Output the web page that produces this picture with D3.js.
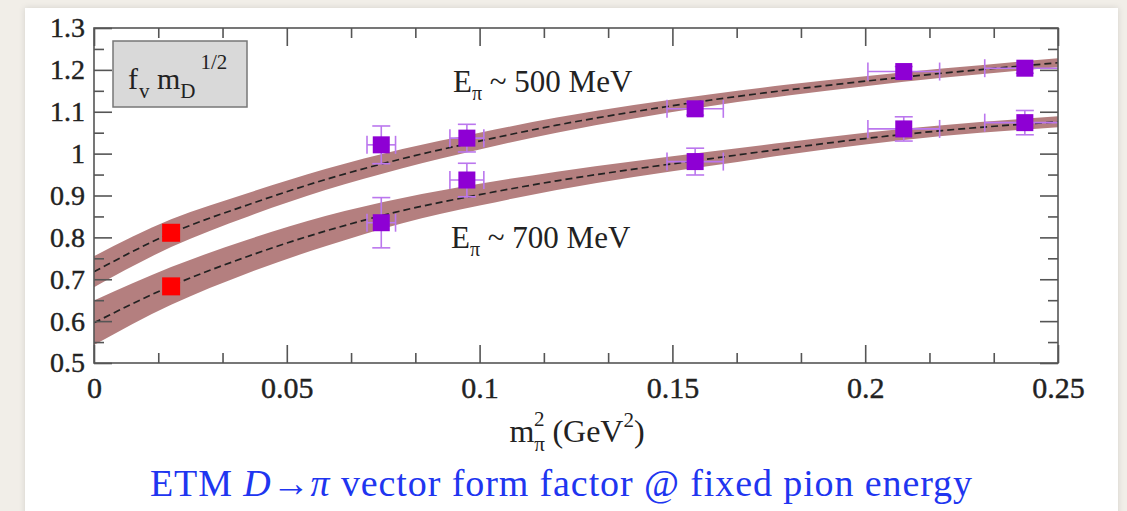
<!DOCTYPE html>
<html>
<head>
<meta charset="utf-8">
<script src="https://cdn.jsdelivr.net/npm/d3@7"></script>
<style>
  html, body { margin: 0; padding: 0; background: #f1eee8; }
  svg { display: block; }
</style>
</head>
<body>
<script>
// D -> pi vector form factor at fixed pion energy (ETM), two fit bands

// fit curves at these m_pi^2 values
const fitX = [0, 0.02, 0.04, 0.06, 0.08, 0.10, 0.12, 0.14, 0.16, 0.18, 0.20, 0.22, 0.25];
const fit500 = [0.718, 0.810, 0.878, 0.938, 0.988, 1.030, 1.068, 1.100, 1.128, 1.152, 1.173, 1.192, 1.217];
const band500 = [0.037, 0.033, 0.028, 0.025, 0.023, 0.020, 0.018, 0.016, 0.014, 0.013, 0.012, 0.011, 0.011];
const fit700 = [0.596, 0.684, 0.755, 0.815, 0.864, 0.902, 0.935, 0.963, 0.988, 1.013, 1.036, 1.055, 1.076];
const band700 = [0.053, 0.045, 0.040, 0.036, 0.030, 0.026, 0.022, 0.019, 0.017, 0.015, 0.014, 0.013, 0.013];

// lattice points
const mpi2 = [0.0745, 0.0967, 0.1559, 0.2100, 0.2414];
const mpi2Err = [0.0037, 0.0044, 0.0073, 0.0093, 0.0104];
const ff500 = [1.021, 1.037, 1.107, 1.196, 1.204];
const ff500Err = [0.045, 0.033, 0.015, 0.012, 0.012];
const ff700 = [0.835, 0.937, 0.981, 1.059, 1.074];
const ff700Err = [0.060, 0.040, 0.032, 0.029, 0.029];

// physical point (red)
const physX = [0.02, 0.02];
const physY = [0.811, 0.683];

const xTicks = [0, 0.05, 0.1, 0.15, 0.2, 0.25];
const yTicks = [0.5, 0.6, 0.7, 0.8, 0.9, 1, 1.1, 1.2, 1.3];

const W = 1127, H = 511;
const plotL = 94, plotR = 1058, plotT = 28, plotB = 363;

const x = d3.scaleLinear().domain([0, 0.25]).range([plotL, plotR]);
const y = d3.scaleLinear().domain([0.5, 1.3]).range([plotB, plotT]);

const svg = d3.select("body").append("svg").attr("width", W).attr("height", H);

const defs = svg.append("defs");
const shadow = defs.append("filter").attr("id", "shadow").attr("x", "-5%").attr("y", "-5%").attr("width", "110%").attr("height", "110%");
shadow.append("feDropShadow").attr("dx", 0).attr("dy", 0).attr("stdDeviation", 3).attr("flood-color", "#000").attr("flood-opacity", 0.12);
defs.append("clipPath").attr("id", "plot")
  .append("rect").attr("x", plotL).attr("y", plotT).attr("width", plotR - plotL).attr("height", plotB - plotT);

// white card
svg.append("rect").attr("x", 25).attr("y", 8).attr("width", 1093).attr("height", 520)
  .attr("fill", "#fff").attr("filter", "url(#shadow)");

const plot = svg.append("g").attr("clip-path", "url(#plot)");

function drawFit(center, half) {
  const pts = fitX.map((v, i) => ({ x: v, c: center[i], h: half[i] }));
  const area = d3.area().curve(d3.curveMonotoneX)
    .x((d) => x(d.x)).y0((d) => y(d.c - d.h)).y1((d) => y(d.c + d.h));
  const line = d3.line().curve(d3.curveMonotoneX).x((d) => x(d.x)).y((d) => y(d.c));
  plot.append("path").attr("d", area(pts)).attr("fill", "#b47f7f");
  plot.append("path").attr("d", line(pts)).attr("fill", "none")
    .attr("stroke", "#222").attr("stroke-width", 1.7).attr("stroke-dasharray", "7,4");
}
drawFit(fit500, band500);
drawFit(fit700, band700);

// error bars
const errColor = "#bb77ee";
function drawPoints(vals, errs) {
  mpi2.forEach((mx, i) => {
    const cx = x(mx), cy = y(vals[i]);
    const x0 = x(mx - mpi2Err[i]), x1 = x(mx + mpi2Err[i]);
    const y0 = y(vals[i] - errs[i]), y1 = y(vals[i] + errs[i]);
    const g = plot.append("g").attr("stroke", errColor).attr("stroke-width", 1.6).attr("fill", "none");
    g.append("line").attr("x1", x0).attr("x2", x1).attr("y1", cy).attr("y2", cy);
    g.append("line").attr("x1", x0).attr("x2", x0).attr("y1", cy - 9).attr("y2", cy + 9);
    g.append("line").attr("x1", x1).attr("x2", x1).attr("y1", cy - 9).attr("y2", cy + 9);
    g.append("line").attr("x1", cx).attr("x2", cx).attr("y1", y0).attr("y2", y1);
    g.append("line").attr("x1", cx - 9).attr("x2", cx + 9).attr("y1", y0).attr("y2", y0);
    g.append("line").attr("x1", cx - 9).attr("x2", cx + 9).attr("y1", y1).attr("y2", y1);
    plot.append("rect").attr("x", cx - 8.5).attr("y", cy - 8.5).attr("width", 17).attr("height", 17)
      .attr("fill", "#8e00d4");
  });
}
drawPoints(ff500, ff500Err);
drawPoints(ff700, ff700Err);

physX.forEach((px, i) => {
  plot.append("rect").attr("x", x(px) - 9).attr("y", y(physY[i]) - 9).attr("width", 18).attr("height", 18)
    .attr("fill", "#ff0000");
});

// frame and ticks (inward, on all four sides)
const axisColor = "#555";
svg.append("rect").attr("x", plotL).attr("y", plotT).attr("width", plotR - plotL).attr("height", plotB - plotT)
  .attr("fill", "none").attr("stroke", axisColor).attr("stroke-width", 1.6);

const xMinor = d3.range(0, 0.2501, 0.05 / 3).filter((v) => !xTicks.some((t) => Math.abs(t - v) < 1e-6));
const yMinor = d3.range(0.55, 1.3, 0.1);

const fmt = (d) => d3.format("~g")(+d.toFixed(3));
const serif = "'Liberation Serif', 'Times New Roman', serif";

function styleAxis(g) {
  g.select(".domain").remove();
  g.selectAll(".tick line").attr("stroke", axisColor).attr("stroke-width", 1.6);
}

function styleLabels(size) {
  return (g) => g.selectAll("text")
    .style("font-family", serif).style("font-size", size + "px")
    .attr("fill", "#222").attr("stroke", "#222").attr("stroke-width", 0.4);
}

svg.append("g").attr("transform", `translate(0,${plotB})`)
  .call(d3.axisBottom(x).tickValues(xTicks).tickSize(-18).tickPadding(14).tickFormat(fmt))
  .call(styleAxis)
  .call(styleLabels(30));
svg.append("g").attr("transform", `translate(0,${plotB})`)
  .call(d3.axisBottom(x).tickValues(xMinor).tickSize(-10).tickFormat(""))
  .call(styleAxis);
svg.append("g").attr("transform", `translate(0,${plotT})`)
  .call(d3.axisTop(x).tickValues(xTicks).tickSize(-18).tickFormat(""))
  .call(styleAxis);
svg.append("g").attr("transform", `translate(0,${plotT})`)
  .call(d3.axisTop(x).tickValues(xMinor).tickSize(-10).tickFormat(""))
  .call(styleAxis);

svg.append("g").attr("transform", `translate(${plotL},0)`)
  .call(d3.axisLeft(y).tickValues(yTicks).tickSize(-18).tickPadding(9).tickFormat(fmt))
  .call(styleAxis)
  .call(styleLabels(28));
svg.append("g").attr("transform", `translate(${plotL},0)`)
  .call(d3.axisLeft(y).tickValues(yMinor).tickSize(-10).tickFormat(""))
  .call(styleAxis);
svg.append("g").attr("transform", `translate(${plotR},0)`)
  .call(d3.axisRight(y).tickValues(yTicks).tickSize(-18).tickFormat(""))
  .call(styleAxis);
svg.append("g").attr("transform", `translate(${plotR},0)`)
  .call(d3.axisRight(y).tickValues(yMinor).tickSize(-10).tickFormat(""))
  .call(styleAxis);

// legend box
svg.append("rect").attr("x", 113).attr("y", 41).attr("width", 134).attr("height", 66)
  .attr("fill", "#d9d9d9").attr("stroke", "#777").attr("stroke-width", 1.5);
const leg = svg.append("text").attr("x", 128).attr("y", 89).style("font-family", serif)
  .attr("font-size", 30).attr("fill", "#222");
leg.append("tspan").text("f");
leg.append("tspan").attr("font-size", 21).attr("dy", 9).attr("dx", 1).text("v");
leg.append("tspan").attr("dy", -9).text(" m");
leg.append("tspan").attr("font-size", 21).attr("dy", 9).text("D");
leg.append("tspan").attr("font-size", 21).attr("dy", -29).attr("dx", 5).text("1/2");

// band labels
function energyLabel(px, py, mev) {
  const t = svg.append("text").attr("x", px).attr("y", py).style("font-family", serif)
    .attr("font-size", 31).attr("fill", "#222");
  t.append("tspan").text("E");
  t.append("tspan").attr("font-size", 20).attr("dy", 8).text("π");
  t.append("tspan").attr("dy", -8).text(` ~ ${mev} MeV`);
}
energyLabel(453, 92, 500);
energyLabel(451, 248, 700);

// axis title
const xt = svg.append("text").attr("x", 577).attr("y", 442).attr("text-anchor", "middle")
  .style("font-family", serif).attr("font-size", 32).attr("fill", "#222");
xt.append("tspan").text("m");
xt.append("tspan").attr("font-size", 21).attr("dy", 9).text("π");
xt.append("tspan").attr("font-size", 21).attr("dy", -25).attr("dx", -11).text("2");
xt.append("tspan").attr("dy", 16).text(" (GeV");
xt.append("tspan").attr("font-size", 21).attr("dy", -15).text("2");
xt.append("tspan").attr("dy", 15).text(")");

// caption
const cap = svg.append("text").attr("x", 150).attr("y", 496)
  .style("font-family", serif).attr("font-size", 38).attr("fill", "#2035f0")
  .attr("textLength", 822).attr("lengthAdjust", "spacing");
cap.append("tspan").text("ETM ");
cap.append("tspan").attr("font-style", "italic").text("D");
cap.append("tspan").text("→");
cap.append("tspan").attr("font-style", "italic").text("π");
cap.append("tspan").text(" vector form factor @ fixed pion energy");
</script>
</body>
</html>
